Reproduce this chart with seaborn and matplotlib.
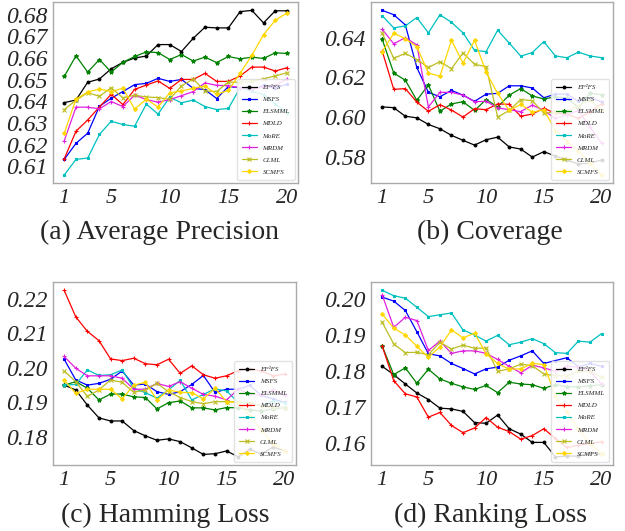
import numpy as np
import matplotlib
matplotlib.use("Agg")
import matplotlib.pyplot as plt
import seaborn as sns
from matplotlib.ticker import MultipleLocator

x = list(range(1, 21))
methods = ["EF²FS", "MSFS", "ELSMML", "MDLD", "MoRE", "MRDM", "CLML", "SCMFS"]
colors = ["black", "blue", "green", "red", "#00c0c0", "#e020e0", "#bcbd22", "#ffd700"]
markers = ["o", "s", "*", "+", "s", "+", "x", "D"]

# (a) Average Precision
ap = {
    "EF²FS": [0.6394, 0.6406, 0.6488, 0.6503, 0.6550, 0.6580, 0.6600, 0.6609, 0.6662, 0.6662,
              0.6630, 0.6691, 0.6742, 0.6739, 0.6739, 0.6814, 0.6820, 0.6762, 0.6818, 0.6818],
    "MSFS": [0.6132, 0.6206, 0.6253, 0.6377, 0.6414, 0.6445, 0.6477, 0.6483, 0.6506, 0.6492,
             0.6501, 0.6460, 0.6454, 0.6413, 0.6468, 0.6463, 0.6455, 0.6474, 0.6460, 0.6480],
    "ELSMML": [0.6515, 0.6610, 0.6535, 0.6593, 0.6535, 0.6580, 0.6607, 0.6628, 0.6625, 0.6593,
               0.6616, 0.6586, 0.6604, 0.6579, 0.6607, 0.6596, 0.6604, 0.6598, 0.6624, 0.6621],
    "MDLD": [0.6135, 0.6262, 0.6314, 0.6374, 0.6432, 0.6385, 0.6455, 0.6475, 0.6494, 0.6460,
             0.6501, 0.6501, 0.6529, 0.6492, 0.6492, 0.6517, 0.6558, 0.6558, 0.6540, 0.6555],
    "MoRE": [0.6060, 0.6132, 0.6138, 0.6247, 0.6308, 0.6293, 0.6285, 0.6387, 0.6341, 0.6419,
             0.6393, 0.6406, 0.6376, 0.6362, 0.6367, 0.6463, 0.6446, 0.6431, 0.6388, 0.6348],
    "MRDM": [0.6218, 0.6373, 0.6373, 0.6365, 0.6399, 0.6376, 0.6429, 0.6408, 0.6396, 0.6408,
             0.6426, 0.6445, 0.6485, 0.6474, 0.6472, 0.6463, 0.6457, 0.6466, 0.6474, 0.6503],
    "CLML": [0.6362, 0.6405, 0.6440, 0.6423, 0.6463, 0.6416, 0.6428, 0.6420, 0.6417, 0.6410,
             0.6471, 0.6503, 0.6448, 0.6445, 0.6489, 0.6488, 0.6492, 0.6504, 0.6517, 0.6532],
    "SCMFS": [0.6253, 0.6410, 0.6443, 0.6457, 0.6445, 0.6460, 0.6364, 0.6410, 0.6374, 0.6439,
              0.6448, 0.6460, 0.6471, 0.6432, 0.6451, 0.6529, 0.6612, 0.6708, 0.6774, 0.6808],
}

# (b) Coverage
cov = {
    "EF²FS": [0.6052, 0.6048, 0.6005, 0.5997, 0.5964, 0.5942, 0.5909, 0.5884, 0.5860, 0.5887,
              0.5900, 0.5851, 0.5840, 0.5800, 0.5827, 0.5805, 0.5785, 0.5765, 0.5770, 0.5785],
    "MSFS": [0.6537, 0.6515, 0.6464, 0.6250, 0.6125, 0.6103, 0.6135, 0.6111, 0.6080, 0.6116,
             0.6120, 0.6158, 0.6158, 0.6147, 0.6098, 0.6116, 0.6116, 0.6080, 0.6098, 0.6078],
    "ELSMML": [0.6391, 0.6222, 0.6186, 0.6085, 0.6162, 0.6030, 0.6067, 0.6078, 0.6034, 0.6089,
               0.6052, 0.6111, 0.6144, 0.6107, 0.6092, 0.6102, 0.6098, 0.6048, 0.6120, 0.6113],
    "MDLD": [0.6332, 0.6140, 0.6144, 0.6076, 0.6030, 0.6063, 0.6036, 0.6001, 0.6043, 0.6038,
             0.6067, 0.6065, 0.6005, 0.6016, 0.6045, 0.6020, 0.6016, 0.5994, 0.6028, 0.6067],
    "MoRE": [0.6510, 0.6449, 0.6459, 0.6501, 0.6424, 0.6515, 0.6477, 0.6424, 0.6336, 0.6330,
             0.6437, 0.6373, 0.6307, 0.6325, 0.6380, 0.6308, 0.6299, 0.6327, 0.6308, 0.6299],
    "MRDM": [0.6442, 0.6369, 0.6400, 0.6363, 0.6052, 0.6125, 0.6125, 0.6111, 0.6078, 0.6080,
             0.6047, 0.6038, 0.6028, 0.6061, 0.6034, 0.5994, 0.6012, 0.6034, 0.5950, 0.5870],
    "CLML": [0.6422, 0.6296, 0.6321, 0.6290, 0.6250, 0.6279, 0.6244, 0.6323, 0.6266, 0.6254,
             0.6001, 0.6034, 0.6089, 0.6083, 0.6021, 0.6025, 0.6030, 0.6058, 0.6089, 0.6034],
    "SCMFS": [0.6330, 0.6422, 0.6395, 0.6354, 0.6222, 0.6206, 0.6387, 0.6272, 0.6387, 0.6226,
              0.6120, 0.6034, 0.6065, 0.6025, 0.6038, 0.5933, 0.5878, 0.5830, 0.5770, 0.5710],
}

# (c) Hamming Loss
hl = {
    "EF²FS": [0.1950, 0.1936, 0.1892, 0.1855, 0.1846, 0.1846, 0.1818, 0.1803, 0.1790, 0.1794,
              0.1786, 0.1768, 0.1749, 0.1751, 0.1759, 0.1742, 0.1764, 0.1750, 0.1770, 0.1760],
    "MSFS": [0.2025, 0.1965, 0.1950, 0.1955, 0.1967, 0.1991, 0.1950, 0.1953, 0.1931, 0.1923,
             0.1931, 0.1952, 0.1978, 0.1929, 0.1938, 0.1938, 0.1949, 0.1920, 0.1910, 0.1900],
    "ELSMML": [0.1950, 0.1960, 0.1941, 0.1907, 0.1924, 0.1924, 0.1916, 0.1914, 0.1881, 0.1899,
               0.1904, 0.1884, 0.1884, 0.1878, 0.1885, 0.1884, 0.1878, 0.1875, 0.1880, 0.1885],
    "MDLD": [0.2225, 0.2148, 0.2106, 0.2079, 0.2026, 0.2021, 0.2028, 0.2012, 0.2009, 0.2025,
             0.1984, 0.2006, 0.1980, 0.1970, 0.1977, 0.1992, 0.1997, 0.1991, 0.1977, 0.1982],
    "MoRE": [0.1950, 0.1952, 0.1994, 0.1978, 0.1980, 0.1994, 0.1941, 0.1928, 0.1912, 0.1936,
             0.1964, 0.1907, 0.1923, 0.1939, 0.1933, 0.1900, 0.1898, 0.1890, 0.1905, 0.1898],
    "MRDM": [0.2033, 0.1999, 0.1977, 0.1977, 0.1977, 0.1970, 0.1938, 0.1938, 0.1955, 0.1946,
             0.1960, 0.1941, 0.1923, 0.1918, 0.1907, 0.1938, 0.1924, 0.1920, 0.1935, 0.1920],
    "CLML": [0.1991, 0.1960, 0.1917, 0.1936, 0.1965, 0.1958, 0.1929, 0.1936, 0.1955, 0.1931,
             0.1914, 0.1902, 0.1896, 0.1902, 0.1902, 0.1902, 0.1899, 0.1890, 0.1885, 0.1883],
    "SCMFS": [0.1965, 0.1926, 0.1938, 0.1938, 0.1938, 0.1910, 0.1950, 0.1958, 0.1907, 0.1936,
              0.1929, 0.1928, 0.1910, 0.1941, 0.1902, 0.1899, 0.1860, 0.1820, 0.1780, 0.1760],
}

# (d) Ranking Loss
rl = {
    "EF²FS": [0.1814, 0.1791, 0.1765, 0.1740, 0.1722, 0.1698, 0.1696, 0.1689, 0.1658, 0.1656,
              0.1679, 0.1641, 0.1626, 0.1603, 0.1603, 0.1563, 0.1565, 0.1565, 0.1575, 0.1570],
    "MSFS": [0.2006, 0.1995, 0.1969, 0.1910, 0.1849, 0.1843, 0.1822, 0.1808, 0.1793, 0.1807,
             0.1812, 0.1831, 0.1843, 0.1857, 0.1822, 0.1830, 0.1838, 0.1812, 0.1822, 0.1814],
    "ELSMML": [0.1870, 0.1791, 0.1810, 0.1767, 0.1806, 0.1779, 0.1767, 0.1757, 0.1750, 0.1761,
               0.1741, 0.1770, 0.1765, 0.1763, 0.1753, 0.1763, 0.1758, 0.1757, 0.1760, 0.1763],
    "MDLD": [0.1870, 0.1774, 0.1738, 0.1729, 0.1673, 0.1686, 0.1650, 0.1630, 0.1643, 0.1672,
             0.1645, 0.1633, 0.1612, 0.1622, 0.1641, 0.1614, 0.1589, 0.1595, 0.1600, 0.1605],
    "MoRE": [0.2025, 0.2010, 0.2003, 0.1978, 0.1952, 0.1957, 0.1962, 0.1915, 0.1901, 0.1884,
             0.1900, 0.1874, 0.1881, 0.1891, 0.1877, 0.1852, 0.1850, 0.1884, 0.1881, 0.1905],
    "MRDM": [0.2012, 0.1922, 0.1950, 0.1941, 0.1858, 0.1884, 0.1850, 0.1857, 0.1857, 0.1850,
             0.1833, 0.1814, 0.1796, 0.1817, 0.1810, 0.1800, 0.1814, 0.1812, 0.1801, 0.1765],
    "CLML": [0.1936, 0.1876, 0.1852, 0.1853, 0.1846, 0.1881, 0.1862, 0.1873, 0.1864, 0.1865,
             0.1800, 0.1807, 0.1820, 0.1816, 0.1793, 0.1788, 0.1788, 0.1800, 0.1800, 0.1784],
    "SCMFS": [0.1959, 0.1920, 0.1901, 0.1870, 0.1839, 0.1868, 0.1915, 0.1893, 0.1906, 0.1849,
              0.1822, 0.1806, 0.1807, 0.1822, 0.1819, 0.1733, 0.1686, 0.1640, 0.1600, 0.1570],
}

panels = [ap, cov, hl, rl]
captions = ["(a) Average Precision", "(b) Coverage", "(c) Hamming Loss", "(d) Ranking Loss"]
ysteps = [0.01, 0.02, 0.01, 0.01]

sns.set_style("white")
plt.rcParams["font.family"] = ["Liberation Serif", "DejaVu Serif"]

fig = plt.figure(figsize=(6.25, 5.31), dpi=100)
rects = [
    [0.085, 0.655, 0.392, 0.341],
    [0.594, 0.655, 0.386, 0.341],
    [0.085, 0.124, 0.388, 0.345],
    [0.594, 0.124, 0.386, 0.345],
]
caption_pos = [(0.256, 0.563), (0.784, 0.563), (0.264, 0.030), (0.784, 0.030)]

for i, data in enumerate(panels):
    ax = fig.add_axes(rects[i])
    for name, c, m in zip(methods, colors, markers):
        ms = 2.0 if m in ("o", "s", "D") else 3.0
        sns.lineplot(x=x, y=data[name], ax=ax, color=c, marker=m, markersize=ms,
                     markeredgecolor=c, markeredgewidth=0.8, linewidth=0.9, label=name)
    ax.set_xticks([1, 5, 10, 15, 20])
    ax.xaxis.set_minor_locator(MultipleLocator(1))
    ax.yaxis.set_major_locator(MultipleLocator(ysteps[i]))
    ax.yaxis.set_major_formatter(plt.FormatStrFormatter("%.2f"))
    ax.tick_params(axis="both", which="major", labelsize=17, length=2, width=0.5,
                   color="#999999", pad=2)
    ax.tick_params(axis="x", which="major", labelsize=16)
    ax.tick_params(axis="x", which="minor", length=1.5, width=0.5, color="#999999")
    for lab in ax.get_xticklabels() + ax.get_yticklabels():
        lab.set_fontstyle("italic")
    for s in ax.spines.values():
        s.set_color("#aaaaaa")
        s.set_linewidth(1.0)
    ax.set_xlabel("")
    ax.set_ylabel("")
    ax.legend(loc="lower right", prop={"family": "Liberation Serif", "style": "italic", "size": 5},
              handlelength=2.2, borderpad=0.7, labelspacing=0.9, handletextpad=0.8,
              framealpha=0.85, edgecolor="#dddddd", fancybox=True)
    fig.text(caption_pos[i][0], caption_pos[i][1], captions[i], ha="center", va="center",
             fontsize=20)

fig.savefig("out.png", dpi=100)
